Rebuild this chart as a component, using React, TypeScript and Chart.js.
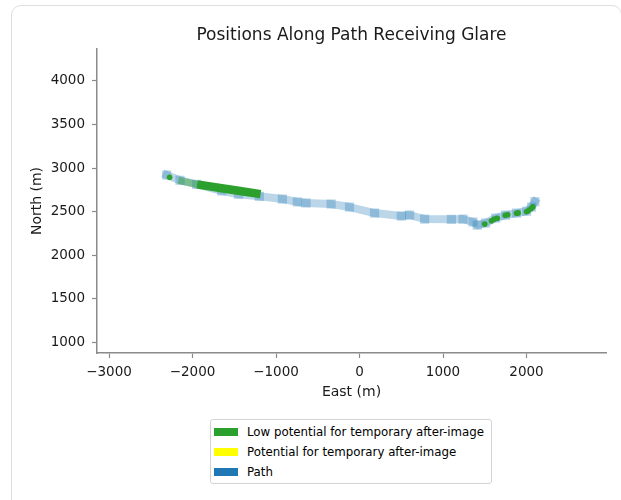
import React, { useEffect, useRef } from 'react';
import { Chart, registerables } from 'chart.js';

Chart.register(...registerables);

// Path (east, north) in metres
const pathEast = [-2310, -2150, -1950, -1650, -1450, -1200, -924, -745, -640, -340, -120, 180, 500, 600, 780, 1100, 1240, 1360, 1410, 1510, 1630, 1750, 1880, 2000, 2060, 2100];
const pathNorth = [2920, 2860, 2812, 2738, 2700, 2676, 2645, 2612, 2600, 2588, 2553, 2484, 2450, 2462, 2415, 2412, 2415, 2382, 2346, 2370, 2427, 2461, 2484, 2505, 2553, 2615];

// Low potential glare: dense band (west segment)
const bandEast = [-1945, -1670, -1430, -1185];
const bandNorth = [2813, 2772, 2737, 2701];
// Low potential glare: sparse faded band
const fadeEast = [-2170, -1945];
const fadeNorth = [2860, 2813];
// Low potential glare: isolated points
const glareEast = [-2274, 1500, 1580, 1615, 1650, 1745, 1775, 1880, 1900, 2000, 2020, 2055, 2075];
const glareNorth = [2894, 2358, 2395, 2415, 2425, 2460, 2465, 2482, 2486, 2500, 2510, 2535, 2555];

const xTicks = [-3000, -2000, -1000, 0, 1000, 2000];
const yTicks = [1000, 1500, 2000, 2500, 3000, 3500, 4000];
const xMin = -3144;
const xMax = 2952;
const yMin = 881;
const yMax = 4364;

const legendLabels = ['Low potential for temporary after-image', 'Potential for temporary after-image', 'Path'];
const legendColors = ['#2ca02c', '#ffff00', '#1f77b4'];

const FONT = "'DejaVu Sans', sans-serif";
const TEXT = '#1a1a1a';
const AXIS = '#8a8a8a';

const zip = (xs: number[], ys: number[]) => xs.map((x, i) => ({ x, y: ys[i] }));
const fmt = (v: any) => {
  const n = Number(v);
  return (n < 0 ? '\u2212' : '') + String(Math.abs(n));
};

export default function App() {
  const ref = useRef<HTMLCanvasElement | null>(null);

  useEffect(() => {
    if (!ref.current) return;
    const chart = new Chart(ref.current, {
      type: 'scatter',
      data: {
        datasets: [
          {
            label: 'glare points',
            data: zip(glareEast, glareNorth),
            showLine: false,
            pointRadius: 2.8,
            pointBackgroundColor: '#2ca02c',
            pointBorderWidth: 0,
          },
          {
            label: 'glare band',
            data: zip(bandEast, bandNorth),
            showLine: true,
            borderColor: '#2ca02c',
            borderWidth: 8.5,
            borderCapStyle: 'butt',
            pointRadius: 0,
          },
          {
            label: 'glare fade',
            data: zip(fadeEast, fadeNorth),
            showLine: true,
            borderColor: 'rgba(44,160,44,0.45)',
            borderWidth: 7,
            borderCapStyle: 'butt',
            pointRadius: 0,
          },
          {
            label: 'Path',
            data: zip(pathEast, pathNorth),
            showLine: true,
            borderColor: 'rgba(31,119,180,0.3)',
            borderWidth: 8,
            borderCapStyle: 'square',
            borderJoinStyle: 'round',
            pointStyle: 'rect',
            pointRadius: 6.5,
            pointBackgroundColor: 'rgba(31,119,180,0.3)',
            pointBorderWidth: 0,
          },
        ],
      },
      options: {
        responsive: false,
        animation: false,
        events: [],
        layout: { padding: { top: 0, left: 0, right: 15, bottom: 87 } },
        plugins: {
          legend: { display: false },
          tooltip: { enabled: false },
          title: {
            display: true,
            text: 'Positions Along Path Receiving Glare',
            fullSize: false,
            color: TEXT,
            font: { family: FONT, size: 17, weight: 'normal', lineHeight: 1.2 },
            padding: { top: 25, bottom: 3.6 },
          },
        },
        scales: {
          x: {
            type: 'linear',
            min: xMin,
            max: xMax,
            afterBuildTicks: (s: any) => {
              s.ticks = xTicks.map((v) => ({ value: v }));
            },
            ticks: {
              padding: 6,
              color: TEXT,
              maxRotation: 0,
              autoSkip: false,
              font: { family: FONT, size: 13.5 },
              callback: fmt,
            },
            grid: { display: true, drawOnChartArea: false, drawTicks: true, tickLength: 5, tickColor: AXIS, tickWidth: 1.2 },
            border: { display: true, color: AXIS, width: 1.5 },
            title: {
              display: true,
              text: 'East (m)',
              color: TEXT,
              font: { family: FONT, size: 14 },
              padding: { top: 0, bottom: 12.6 },
            },
            afterFit: (s: any) => {
              s.height = 60;
            },
          },
          y: {
            type: 'linear',
            min: yMin,
            max: yMax,
            afterBuildTicks: (s: any) => {
              s.ticks = yTicks.map((v) => ({ value: v }));
            },
            ticks: {
              padding: 7,
              color: TEXT,
              autoSkip: false,
              font: { family: FONT, size: 13.5 },
              callback: fmt,
            },
            grid: { display: true, drawOnChartArea: false, drawTicks: true, tickLength: 5, tickColor: AXIS, tickWidth: 1.2 },
            border: { display: true, color: AXIS, width: 1.5 },
            title: {
              display: true,
              text: 'North (m)',
              color: TEXT,
              font: { family: FONT, size: 14 },
              padding: { top: 28.6, bottom: 0 },
            },
            afterFit: (s: any) => {
              s.width = 97;
            },
          },
        },
      } as any,
    });
    return () => chart.destroy();
  }, []);

  const rowCenters = [11.5, 32, 52];

  return (
    <div style={{ position: 'fixed', left: 0, top: 0, width: 621, height: 500, overflow: 'hidden', background: '#fff' }}>
      <div
        style={{
          position: 'absolute',
          left: 11,
          top: 5,
          width: 611,
          height: 540,
          border: '1px solid #dedede',
          borderRadius: 10,
          boxSizing: 'border-box',
        }}
      />
      <canvas ref={ref} width={621} height={500} style={{ position: 'absolute', left: 0, top: 0, width: 621, height: 500 }} />
      <div
        style={{
          position: 'absolute',
          left: 210,
          top: 419,
          width: 282,
          height: 65,
          border: '1px solid #d4d4d4',
          borderRadius: 3,
          boxSizing: 'border-box',
          background: '#fff',
          fontFamily: FONT,
          fontSize: 11.8,
          color: '#000',
        }}
      >
        {legendLabels.map((label, i) => (
          <div key={label} style={{ position: 'absolute', left: 0, top: rowCenters[i] - 8, height: 16, width: '100%' }}>
            <div style={{ position: 'absolute', left: 3, top: 4, width: 24, height: 8, background: legendColors[i] }} />
            <div style={{ position: 'absolute', left: 36, top: 0, lineHeight: '16px', whiteSpace: 'nowrap' }}>{label}</div>
          </div>
        ))}
      </div>
    </div>
  );
}
